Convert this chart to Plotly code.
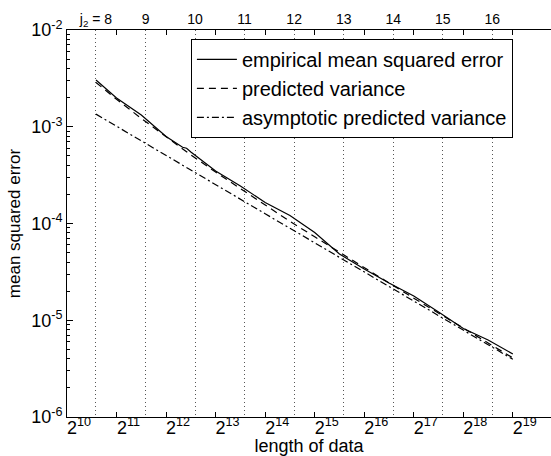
import math
import plotly.graph_objects as go

# ---------------- data ----------------
n_emp = [1536, 2048, 2896, 4096, 5160, 5457, 5793, 8192, 11585, 16384, 23170,
         32768, 46341, 65536, 92682, 131072, 185364, 262144, 370728, 524288]
mse_emp = [3.04e-3, 1.98e-3, 1.32e-3, 7.93e-4, 6.13e-4, 5.99e-4, 5.48e-4, 3.49e-4,
           2.44e-4, 1.65e-4, 1.21e-4, 8.07e-5, 4.84e-5, 3.39e-5, 2.43e-5, 1.78e-5,
           1.22e-5, 8.22e-6, 6.25e-6, 4.48e-6]

n_pred = [1536, 2048, 2896, 4096, 5793, 8192, 11585, 16384, 23170, 32768, 46341,
          65536, 92682, 131072, 185364, 262144, 370728, 524288]
pred_var = [2.87e-3, 1.92e-3, 1.22e-3, 7.84e-4, 5.11e-4, 3.40e-4, 2.29e-4, 1.55e-4,
            1.05e-4, 7.29e-5, 5.03e-5, 3.47e-5, 2.43e-5, 1.69e-5, 1.19e-5, 8.28e-6,
            5.80e-6, 4.08e-6]
asym_var = [1.35e-3, 1.01e-3, 7.15e-4, 5.05e-4, 3.57e-4, 2.53e-4, 1.79e-4, 1.26e-4,
            8.93e-5, 6.32e-5, 4.47e-5, 3.16e-5, 2.23e-5, 1.58e-5, 1.12e-5, 7.90e-6,
            5.58e-6, 3.95e-6]

j2_len = [1536, 3072, 6144, 12288, 24576, 49152, 98304, 196608, 393216]
j2_labels = ["j<sub>2</sub> = 8", "9", "10", "11", "12", "13", "14", "15", "16"]

x_tick_exps = [10, 11, 12, 13, 14, 15, 16, 17, 18, 19]
y_tick_exps = [-6, -5, -4, -3, -2]

FONT = "Liberation Sans, Arial, Helvetica, sans-serif"

x_range = [10 * math.log10(2), 19.77 * math.log10(2)]

fig = go.Figure()
fig.add_trace(go.Scatter(x=n_emp, y=mse_emp, mode="lines",
                         name="empirical mean squared error",
                         line=dict(color="black", width=1.2)))
fig.add_trace(go.Scatter(x=n_pred, y=pred_var, mode="lines",
                         name="predicted variance",
                         line=dict(color="black", width=1.2, dash="7px,5px")))
fig.add_trace(go.Scatter(x=n_pred, y=asym_var, mode="lines",
                         name="asymptotic predicted variance",
                         line=dict(color="black", width=1.2, dash="7px,3px,2px,3px")))
# carrier for the top (j2) axis
fig.add_trace(go.Scatter(x=n_pred, y=asym_var, mode="lines", xaxis="x2",
                         showlegend=False, hoverinfo="skip", opacity=0,
                         line=dict(width=0)))

minor_y = [k * 10.0 ** e for e in y_tick_exps[:-1] for k in range(2, 10)]

fig.update_layout(
    width=551, height=456,
    margin=dict(l=67, r=0, t=30, b=39),
    paper_bgcolor="white", plot_bgcolor="white",
    font=dict(family=FONT, color="black", size=18),
    showlegend=True,
    legend=dict(x=0.256, y=0.977, xanchor="left", yanchor="top",
                bgcolor="white", bordercolor="black", borderwidth=1,
                font=dict(size=20, family=FONT), tracegroupgap=0,
                itemwidth=40),
    xaxis=dict(type="log", range=x_range,
               tickmode="array",
               tickvals=[2 ** e for e in x_tick_exps],
               ticktext=[f"2<sup>{e}</sup>" for e in x_tick_exps],
               ticks="inside", ticklen=5, tickcolor="black", tickwidth=1,
               showline=True, linecolor="black", linewidth=1, mirror="ticks",
               showgrid=False, zeroline=False,
               tickfont=dict(size=18), ticklabelshift=12, ticklabelstandoff=-6,
               title=dict(text="length of data", font=dict(size=18), standoff=3)),
    xaxis2=dict(type="log", range=x_range, overlaying="x", side="top",
                tickmode="array", tickvals=j2_len, ticktext=j2_labels,
                ticks="", showline=False, zeroline=False,
                showgrid=True, gridcolor="#555555", gridwidth=1, griddash="1px,3px",
                tickfont=dict(size=14), ticklabelstandoff=2),
    yaxis=dict(type="log", range=[-6, -2],
               tickmode="array",
               tickvals=[10.0 ** e for e in y_tick_exps],
               ticktext=[f"10<sup>{e}</sup>" for e in y_tick_exps],
               ticks="inside", ticklen=6, tickcolor="black", tickwidth=1,
               minor=dict(tickmode="array", tickvals=minor_y, ticks="inside",
                          ticklen=3, tickcolor="black", showgrid=False),
               showline=True, linecolor="black", linewidth=1, mirror=False,
               showgrid=False, zeroline=False,
               tickfont=dict(size=18),
               title=dict(text="mean squared error", font=dict(size=17), standoff=6)),
)

fig.write_html("out.html")
